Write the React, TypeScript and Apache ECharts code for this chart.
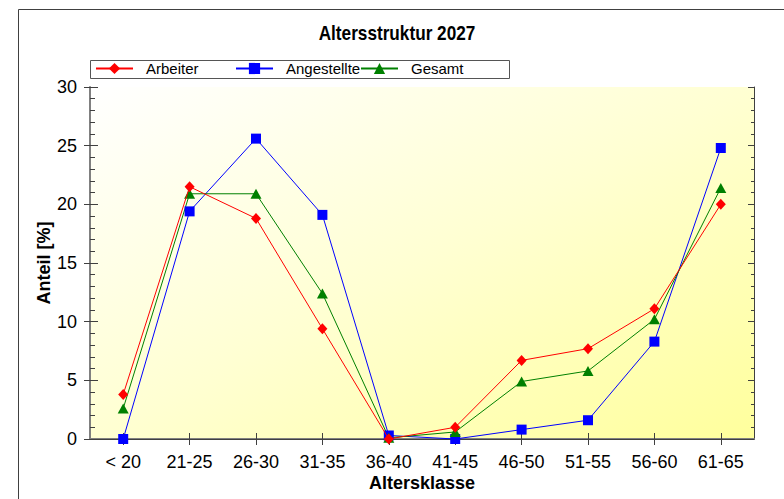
import React, { useEffect, useRef } from "react";
import * as echarts from "echarts";

const categories = ["< 20", "21-25", "26-30", "31-35", "36-40", "41-45", "46-50", "51-55", "56-60", "61-65"];
const arbeiter = [3.8, 21.5, 18.8, 9.4, 0.0, 1.0, 6.7, 7.7, 11.1, 20.0];
const angestellte = [0.0, 19.4, 25.6, 19.1, 0.3, 0.0, 0.8, 1.6, 8.3, 24.8];
const gesamt = [2.6, 20.9, 20.9, 12.4, 0.1, 0.6, 4.9, 5.8, 10.2, 21.4];
const titleText = "Altersstruktur 2027";
const xName = "Altersklasse";
const yName = "Anteil [%]";

const FONT = "'Liberation Sans', Arial, Helvetica, sans-serif";

export default function App() {
  const ref = useRef<HTMLDivElement>(null);
  useEffect(() => {
    if (!ref.current) return;
    const chart = echarts.init(ref.current, null, { renderer: "svg" });
    const gridRect = { left: 90, right: 30, top: 87, bottom: 60, outerBoundsMode: "none" } as any;
    const legendBase = {
      top: 61,
      padding: 0,
      itemWidth: 37,
      itemHeight: 14,
      itemGap: 0,
      selectedMode: false,
      textStyle: { fontFamily: FONT, fontSize: 15, color: "#000", padding: [0, 0, 0, 8] },
    };
    chart.setOption({
      animation: false,
      backgroundColor: "#fff",
      textStyle: { fontFamily: FONT },
      graphic: [
        { type: "rect", shape: { x: 18.5, y: 9.5, width: 900, height: 700 }, style: { fill: "none", stroke: "#404040", lineWidth: 1 }, z: 0 },
        { type: "rect", shape: { x: 90.5, y: 60.5, width: 419, height: 18 }, style: { fill: "#fff", stroke: "#555", lineWidth: 1 }, z: 1 },
        { type: "text", x: 397, y: 33, scaleX: 0.86, style: { text: titleText, fontFamily: FONT, fontSize: 20, fontWeight: "bold", fill: "#000", align: "center", verticalAlign: "middle" } },
        { type: "text", x: 422, y: 483, style: { text: xName, fontFamily: FONT, fontSize: 18, fontWeight: "bold", fill: "#000", align: "center", verticalAlign: "middle" } },
        { type: "text", x: 44, y: 263, rotation: Math.PI / 2, style: { text: yName, fontFamily: FONT, fontSize: 18, fontWeight: "bold", fill: "#000", align: "center", verticalAlign: "middle" } },
      ],
      legend: [
        { ...legendBase, left: 95, data: ["Arbeiter"], z: 5 },
        { ...legendBase, left: 235, data: ["Angestellte"], z: 5 },
        { ...legendBase, left: 360, data: ["Gesamt"], z: 5 },
      ],
      grid: [
        {
          ...gridRect,
          show: true,
          borderWidth: 0,
          backgroundColor: new echarts.graphic.LinearGradient(0, 0, 1, 1, [
            { offset: 0, color: "#ffffff" },
            { offset: 0.5, color: "#ffffd2" },
            { offset: 1, color: "#ffff9c" },
          ]),
        },
        { ...gridRect, show: false },
      ],
      xAxis: [
        {
          type: "category",
          gridIndex: 0,
          position: "bottom",
          data: categories,
          boundaryGap: true,
          axisLine: { show: true, lineStyle: { color: "#808080", width: 2 } },
          axisTick: { show: true, alignWithLabel: true, length: 6, lineStyle: { color: "#404040" } },
          axisLabel: { fontFamily: FONT, fontSize: 18, color: "#000", margin: 14, interval: 0 },
          splitLine: { show: false },
        },
        {
          type: "category",
          gridIndex: 0,
          position: "top",
          data: categories,
          boundaryGap: true,
          axisLine: { show: true, lineStyle: { color: "#404040", width: 1 } },
          axisTick: { show: true, inside: true, alignWithLabel: true, length: 5, lineStyle: { color: "#404040" } },
          axisLabel: { show: false },
          splitLine: { show: false },
        },
        {
          type: "category",
          gridIndex: 1,
          position: "bottom",
          data: categories,
          boundaryGap: true,
          axisLine: { show: false },
          axisTick: { show: true, inside: true, alignWithLabel: true, length: 6, lineStyle: { color: "#404040" } },
          axisLabel: { show: false },
          splitLine: { show: false },
        },
      ],
      yAxis: [
        {
          type: "value",
          gridIndex: 0,
          position: "left",
          min: 0,
          max: 30,
          interval: 5,
          axisLine: { show: true, lineStyle: { color: "#808080", width: 2 } },
          axisTick: { show: true, length: 6, lineStyle: { color: "#404040" } },
          axisLabel: { fontFamily: FONT, fontSize: 18, color: "#000", margin: 13 },
          splitLine: { show: false },
        },
        {
          type: "value",
          gridIndex: 0,
          position: "right",
          min: 0,
          max: 30,
          interval: 5,
          axisLine: { show: true, lineStyle: { color: "#404040", width: 1 } },
          axisTick: { show: true, inside: true, length: 6, lineStyle: { color: "#404040" } },
          minorTick: { show: true, splitNumber: 5, length: 3, lineStyle: { color: "#404040" } },
          axisLabel: { show: false },
          splitLine: { show: false },
        },
        {
          type: "value",
          gridIndex: 1,
          position: "left",
          min: 0,
          max: 30,
          interval: 5,
          axisLine: { show: false },
          axisTick: { show: true, inside: true, length: 8, lineStyle: { color: "#404040" } },
          minorTick: { show: true, splitNumber: 5, length: 5, lineStyle: { color: "#404040" } },
          axisLabel: { show: false },
          splitLine: { show: false },
        },
      ],
      series: [
        {
          name: "Arbeiter",
          type: "line",
          xAxisIndex: 0,
          yAxisIndex: 0,
          data: arbeiter,
          symbol: "diamond",
          symbolSize: [10, 11],
          color: "#ff0000",
          lineStyle: { width: 1, color: "#ff0000" },
          itemStyle: { color: "#ff0000" },
          z: 4,
        },
        {
          name: "Angestellte",
          type: "line",
          xAxisIndex: 0,
          yAxisIndex: 0,
          data: angestellte,
          symbol: "rect",
          symbolSize: 10,
          color: "#0000ff",
          lineStyle: { width: 1, color: "#0000ff" },
          itemStyle: { color: "#0000ff" },
          z: 3,
        },
        {
          name: "Gesamt",
          type: "line",
          xAxisIndex: 0,
          yAxisIndex: 0,
          data: gesamt,
          symbol: "triangle",
          symbolSize: [11, 10],
          color: "#008000",
          lineStyle: { width: 1, color: "#008000" },
          itemStyle: { color: "#008000" },
          z: 3,
        },
      ],
    });
    return () => chart.dispose();
  }, []);
  return <div ref={ref} style={{ position: "absolute", left: 0, top: 0, width: 784, height: 499 }} />;
}
